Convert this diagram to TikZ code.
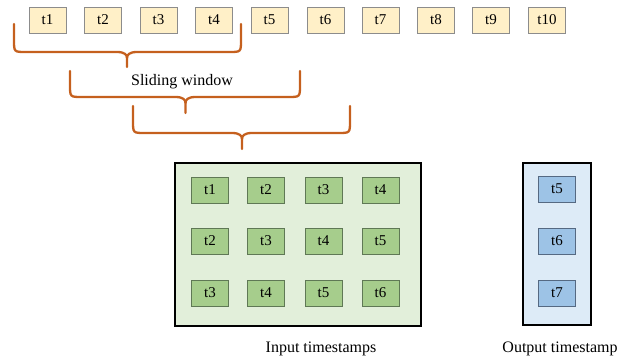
\documentclass[tikz,border=0pt]{standalone}
\usepackage{fontspec}
\setmainfont{Liberation Serif}
\definecolor{bracec}{RGB}{197,96,30}
\definecolor{topfill}{RGB}{255,240,200}
\definecolor{topdraw}{RGB}{140,140,140}
\definecolor{greenbg}{RGB}{226,239,218}
\definecolor{greenfill}{RGB}{166,205,140}
\definecolor{greendraw}{RGB}{95,120,85}
\definecolor{bluebg}{RGB}{221,235,247}
\definecolor{bluefill}{RGB}{157,195,230}
\definecolor{bluedraw}{RGB}{85,105,130}
\newcommand{\slidebrace}[6]{% x1 x2 top h mid tip
  \draw[bracestyle] (#1,#3) -- (#1,#4-12) .. controls (#1,#4) .. (#1+12,#4)
    -- (#5-10,#4) .. controls (#5-2,#4) and (#5,#4+3) .. (#5,#4+6) -- (#5,#6);
  \draw[bracestyle] (#2,#3) -- (#2,#4-12) .. controls (#2,#4) .. (#2-12,#4)
    -- (#5+10,#4) .. controls (#5+2,#4) and (#5,#4+3) .. (#5,#4+6);
}
\tikzset{
  bracestyle/.style={draw=bracec, line width=2.3pt, line cap=round, line join=round},
  tbox/.style={rectangle, minimum width=37pt, minimum height=26pt, inner sep=0pt,
    font=\fontsize{15}{18}\selectfont},
  topbox/.style={tbox, fill=topfill, draw=topdraw, line width=0.9pt},
  greenbox/.style={tbox, fill=greenfill, draw=greendraw, line width=0.9pt},
  bluebox/.style={tbox, fill=bluefill, draw=bluedraw, line width=0.9pt},
  panel/.style={draw=black, line width=2.8pt},
  lbl/.style={font=\fontsize{16}{19}\selectfont, inner sep=0pt},
}
\begin{document}
\begin{tikzpicture}[x=1pt,y=-1pt]
\useasboundingbox (0,0) rectangle (628,360);
% top sequence
\foreach \i/\x in {1/47.5,2/103,3/158.5,4/214,5/269.5,6/325.5,7/380.5,8/436,9/491,10/547}
  \node[topbox] (s\i) at (\x,20) {t\i};
% braces
\slidebrace{14}{241}{24}{52}{127}{67}
\slidebrace{70}{300}{71}{97}{185.5}{113}
\slidebrace{133}{350}{106}{133}{242}{149}
\node[lbl] (sw) at (182,82) {Sliding window};
% input panel
\draw[panel, fill=greenbg] (175,163) rectangle (421,326);
\foreach \r/\y in {1/190,2/241,3/293}
  \foreach \c/\x in {1/210,2/266,3/323.5,4/380.5}
  {
    \pgfmathtruncatemacro{\v}{\r+\c-1}
    \node[greenbox] (g\r\c) at (\x,\y) {t\v};
  }
\node[lbl] (inlbl) at (321,349) {Input timestamps};
% output panel
\draw[panel, fill=bluebg] (523,163) rectangle (591,325);
\node[bluebox] (o1) at (557,189) {t5};
\node[bluebox] (o2) at (557,241) {t6};
\node[bluebox] (o3) at (557,293) {t7};
\node[lbl] (outlbl) at (560,349) {Output timestamp};
\end{tikzpicture}
\end{document}
